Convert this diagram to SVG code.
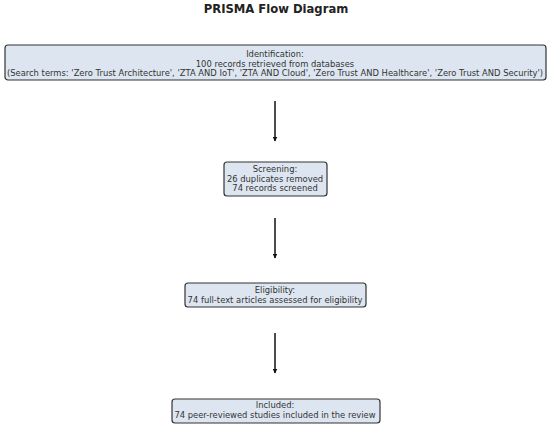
<svg xmlns="http://www.w3.org/2000/svg" width="550" height="428" viewBox="0 0 550 428">
<defs>
<style>
.box{fill:#dde6f0;stroke:#333;stroke-width:1.2}
.t{font-family:"DejaVu Sans",sans-serif;font-size:8.4px;fill:#333;text-anchor:middle}
.title{font-family:"DejaVu Sans",sans-serif;font-size:11.6px;font-weight:bold;fill:#222;text-anchor:middle}
.arr{stroke:#111;stroke-width:1.5;fill:none;marker-end:url(#ah)}
</style>
<marker id="ah" viewBox="0 0 10 10" refX="9" refY="5" markerWidth="5" markerHeight="5" orient="auto" markerUnits="userSpaceOnUse">
<path d="M0,0 L10,5 L0,10 z" fill="#111"/>
</marker>
</defs>
<rect width="550" height="428" fill="#fff"/>
<text class="title" x="276" y="13">PRISMA Flow Diagram</text>
<g id="connectors">
<line class="arr" x1="275" y1="101" x2="275" y2="141"/>
<line class="arr" x1="275" y1="218" x2="275" y2="258"/>
<line class="arr" x1="275" y1="333" x2="275" y2="373"/>
</g>
<g id="identification">
<rect class="box" x="5" y="45" width="541" height="35" rx="3"/>
<text class="t" x="275" y="57">Identification:</text>
<text class="t" x="275" y="66.5">100 records retrieved from databases</text>
<text class="t" x="275" y="76">(Search terms: 'Zero Trust Architecture', 'ZTA AND IoT', 'ZTA AND Cloud', 'Zero Trust AND Healthcare', 'Zero Trust AND Security')</text>
</g>
<g id="screening">
<rect class="box" x="224" y="162" width="103" height="34" rx="3"/>
<text class="t" x="275" y="172">Screening:</text>
<text class="t" x="275" y="181.5">26 duplicates removed</text>
<text class="t" x="275" y="191">74 records screened</text>
</g>
<g id="eligibility">
<rect class="box" x="185" y="283" width="181" height="24" rx="3"/>
<text class="t" x="275" y="293">Eligibility:</text>
<text class="t" x="275" y="303">74 full-text articles assessed for eligibility</text>
</g>
<g id="included">
<rect class="box" x="172" y="399" width="208" height="24" rx="3"/>
<text class="t" x="275" y="408">Included:</text>
<text class="t" x="275" y="418">74 peer-reviewed studies included in the review</text>
</g>
</svg>
